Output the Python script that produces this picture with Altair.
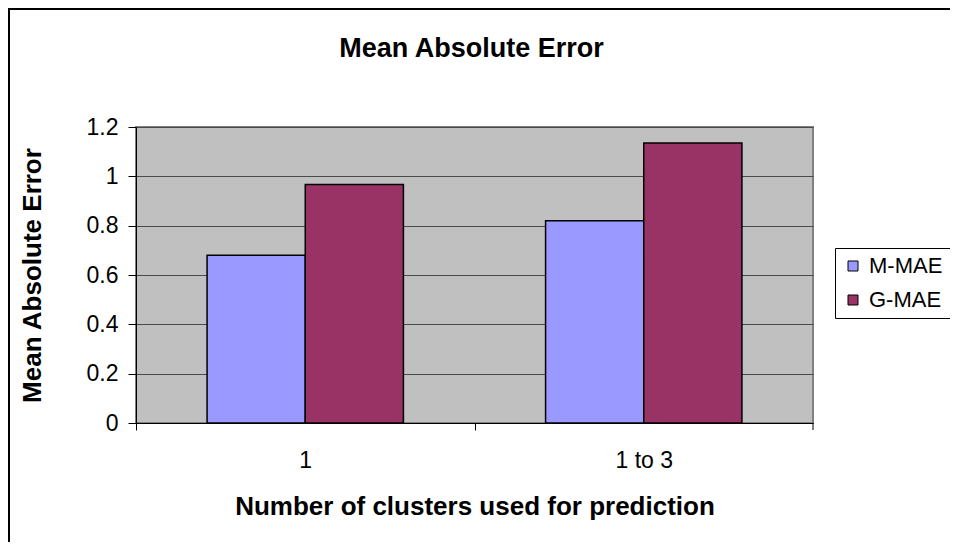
import altair as alt
import pandas as pd

categories = ["1", "1 to 3"]
series = ["M-MAE", "G-MAE"]
m_mae = [0.68, 0.82]
g_mae = [0.967, 1.135]
colors = ["#9999FF", "#993366"]
y_ticks = [0, 0.2, 0.4, 0.6, 0.8, 1.0, 1.2]

rows = []
for i, c in enumerate(categories):
    rows.append({"cat": c, "series": series[0], "value": m_mae[i]})
    rows.append({"cat": c, "series": series[1], "value": g_mae[i]})
df = pd.DataFrame(rows)

W, H = 677, 296
PL, PT = 128, 119
TOTAL_W, TOTAL_H = 942, 534
FONT = "Liberation Sans"

x_enc = alt.X(
    "cat:N",
    sort=categories,
    scale=alt.Scale(paddingInner=0.42, paddingOuter=0.21),
    axis=alt.Axis(
        title="Number of clusters used for prediction",
        labelAngle=0,
        tickOffset=-W / 4,
        labelOffset=W / 4,
        tickSize=7,
        tickColor="black",
        domainColor="black",
        labelFontSize=23,
        labelPadding=19,
        titleFontSize=26,
        titleFontWeight="bold",
        titlePadding=21,
        grid=False,
    ),
)

bars = alt.Chart(df).mark_bar(stroke="black", strokeWidth=1.5).encode(
    x=x_enc,
    xOffset=alt.XOffset("series:N", sort=series),
    y=alt.Y(
        "value:Q",
        scale=alt.Scale(domain=[0, 1.2]),
        axis=alt.Axis(
            title="Mean Absolute Error",
            values=y_ticks,
            format="~g",
            tickSize=8,
            tickColor="black",
            domainColor="black",
            labelFontSize=23,
            labelPadding=10,
            titleFontSize=26,
            titleFontWeight="bold",
            titlePadding=41,
            grid=True,
            gridColor="#4a4a4a",
            gridWidth=1,
        ),
    ),
    color=alt.Color(
        "series:N",
        sort=series,
        scale=alt.Scale(domain=series, range=colors),
        legend=alt.Legend(
            title=None,
            orient="none",
            legendX=699,
            legendY=121,
            strokeColor="black",
            fillColor="white",
            padding=7,
            symbolType="square",
            symbolSize=100,
            symbolStrokeColor="black",
            symbolStrokeWidth=1,
            labelFontSize=22,
            rowPadding=12,
            labelOffset=5,
        ),
    ),
)

end_tick = alt.Chart(pd.DataFrame({"a": [0]})).mark_rule(color="black").encode(
    x=alt.value(W), y=alt.value(H), y2=alt.value(H + 7)
)

border = alt.Chart(pd.DataFrame({"a": [0]})).mark_rect(
    fillOpacity=0, stroke="black", strokeWidth=2
).encode(
    x=alt.value(-PL + 1), y=alt.value(-PT + 1), x2=alt.value(3000), y2=alt.value(3000)
)

chart = (
    alt.layer(bars, end_tick, border)
    .properties(
        width=W,
        height=H,
        title=alt.TitleParams(
            "Mean Absolute Error",
            fontSize=27,
            fontWeight="bold",
            offset=-76,
            anchor="middle",
            frame="group",
            baseline="alphabetic",
            dx=-3,
        ),
        autosize=alt.AutoSizeParams(type="none"),
        padding={"left": PL, "top": PT, "right": TOTAL_W - PL - W, "bottom": TOTAL_H - PT - H},
    )
    .configure(font=FONT, background="white")
    .configure_view(fill="#C0C0C0", stroke="#808080", strokeWidth=2)
    .configure_axis(labelColor="black", titleColor="black", labelFont=FONT, titleFont=FONT)
    .configure_legend(labelFont=FONT, labelColor="black")
    .configure_title(font=FONT, color="black")
)

chart.save("out.html", embed_options={"renderer": "svg", "actions": False})
